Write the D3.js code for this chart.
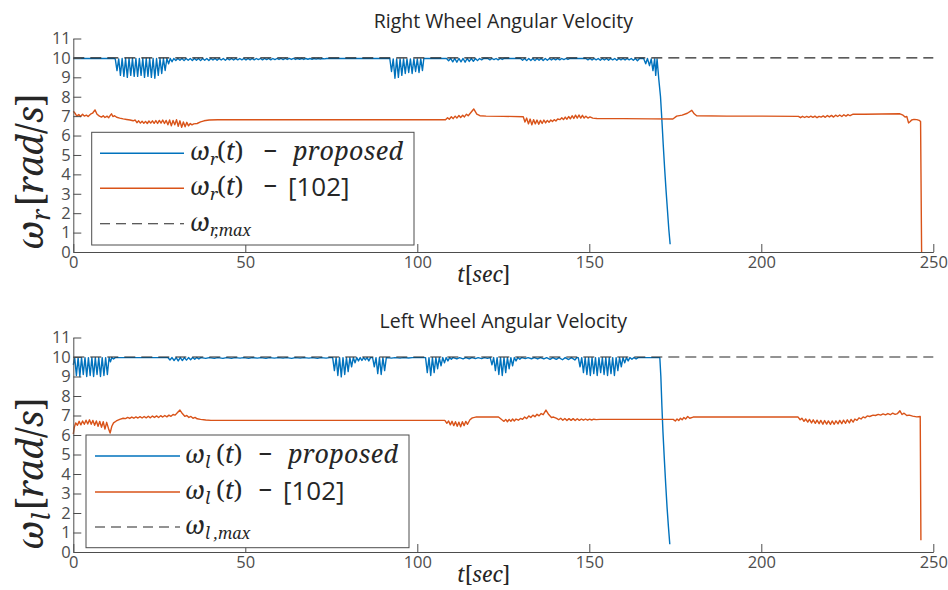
<!DOCTYPE html>
<html>
<head>
<meta charset="utf-8">
<script src="https://cdn.jsdelivr.net/npm/d3@7"></script>
<style>
  body { margin: 0; background: #fff; }
  svg { display: block; }
</style>
</head>
<body>
<svg id="chart" width="948" height="590"></svg>
<script>
// ---- data -------------------------------------------------------------
const timeTicks = [0, 50, 100, 150, 200, 250];
const speedTicks = [0, 1, 2, 3, 4, 5, 6, 7, 8, 9, 10, 11];
const speedLimit = 10;
const refLabel = "[102]";

// right wheel, proposed controller [t (s), ω (rad/s)]
const rightProposed = [
  [0,9.97],[11.8,9.97],
  [12.2,9.95],[12.7,9.35],[13.2,9.95],[13.7,9.1],[14.2,9.97],[14.7,9.05],[15.2,9.97],[15.7,9.0],
  [16.2,9.97],[16.7,9.1],[17.2,9.97],[17.7,9.05],[18.2,9.97],[18.7,9.05],[19.2,9.97],[19.7,9.1],
  [20.2,9.97],[20.7,9.0],[21.2,9.97],[21.7,9.05],[22.2,9.97],[22.7,9.0],[23.2,9.97],[23.7,8.95],
  [24.2,9.97],[24.7,9.1],[25.2,9.97],[25.7,9.2],[26.2,9.97],[26.7,9.35],[27.2,9.97],[27.7,9.7],
  [28.2,9.97],[28.7,9.8],[29.2,9.97],
  [29.8,9.87],[30.4,9.97],[31.0,9.88],[31.6,9.97],[32.2,9.86],[32.8,9.97],[33.4,9.88],[34.0,9.97],
  [34.6,9.87],[35.2,9.97],[35.8,9.88],[36.4,9.97],[37.0,9.86],[37.6,9.97],[38.2,9.88],[38.8,9.97],
  [39.4,9.87],[40.0,9.97],[40.6,9.89],[41.2,9.97],[41.8,9.88],[42.4,9.97],[43.0,9.89],[43.6,9.97],
  [44.2,9.88],[44.8,9.97],[45.4,9.9],[46.0,9.97],[46.6,9.89],[47.2,9.97],[47.8,9.9],[48.4,9.97],
  [49.0,9.9],[49.6,9.97],[50.2,9.89],[50.8,9.97],[51.4,9.9],[52.0,9.97],[52.6,9.9],[53.2,9.97],
  [53.8,9.91],[54.4,9.97],[55.0,9.9],[55.6,9.97],[56.2,9.91],[56.8,9.97],[57.4,9.9],[58.0,9.97],
  [58.6,9.91],[59.2,9.97],[59.8,9.92],[60.4,9.97],[61.0,9.91],[61.6,9.97],[62.2,9.92],[62.8,9.97],
  [63.4,9.92],[64.0,9.97],[64.6,9.92],[65.2,9.97],[65.8,9.93],[66.4,9.97],[67.0,9.92],[67.6,9.97],
  [68.2,9.93],[68.8,9.97],[69.4,9.93],[70.0,9.97],[70.6,9.94],[71.2,9.97],[71.8,9.94],[72.4,9.97],
  [73.0,9.95],[73.6,9.97],[91.5,9.97],
  [92.0,9.97],[92.5,9.3],[93.0,9.95],[93.5,8.95],[94.0,9.95],[94.5,9.0],[95.0,9.95],[95.5,9.1],
  [96.0,9.95],[96.5,9.2],[97.0,9.95],[97.5,9.25],[98.0,9.95],[98.5,9.2],[99.0,9.95],[99.5,9.3],
  [100.0,9.95],[100.5,9.25],[101.0,9.95],[101.5,9.35],[101.9,9.97],[108.5,9.97],
  [109.1,9.85],[109.7,9.97],[110.3,9.8],[110.9,9.97],[111.5,9.78],[112.1,9.97],[112.7,9.8],[113.3,9.97],
  [113.9,9.78],[114.5,9.97],[115.1,9.82],[115.7,9.97],[116.3,9.83],[116.9,9.97],[117.5,9.86],[118.1,9.97],
  [118.7,9.9],[119.3,9.97],[120.5,9.97],[121.1,9.9],[121.7,9.97],[122.3,9.91],[122.9,9.97],[123.5,9.9],
  [124.1,9.97],[124.7,9.92],[125.3,9.97],[130.0,9.97],
  [130.6,9.88],[131.2,9.97],[131.8,9.86],[132.4,9.97],[133.0,9.87],[133.6,9.97],[134.2,9.86],[134.8,9.97],
  [135.4,9.88],[136.0,9.97],[136.6,9.87],[137.2,9.97],[137.8,9.88],[138.4,9.97],[139.0,9.89],[139.6,9.97],
  [140.2,9.9],[140.8,9.97],[141.4,9.9],[142.0,9.97],[142.6,9.91],[143.2,9.97],[143.8,9.92],[144.4,9.97],
  [149.0,9.97],[149.6,9.9],[150.2,9.97],[150.8,9.89],[151.4,9.97],[152.0,9.9],[152.6,9.97],[153.2,9.88],
  [153.8,9.97],[154.4,9.89],[155.0,9.97],[155.6,9.88],[156.2,9.97],[156.8,9.9],[157.4,9.97],[158.0,9.88],
  [158.6,9.97],[159.2,9.9],[159.8,9.97],[160.4,9.89],[161.0,9.97],[161.6,9.9],[162.2,9.97],[162.8,9.88],
  [163.4,9.97],[164.0,9.85],[164.6,9.97],[165.8,9.97],[166.4,9.7],[166.9,9.97],[167.5,9.6],[168.0,9.95],
  [168.5,9.35],[169.0,9.95],[169.3,9.1],[169.7,9.95],
  [170.2,8.9],[170.7,8.0],[171.1,6.8],[171.5,5.5],[171.9,4.3],[172.3,3.2],[172.7,2.2],[173.1,1.2],[173.5,0.4]
];

// right wheel, reference controller [102]
const rightReference = [
  [0,7.25],[0.5,7.15],[1,7.0],[1.6,7.08],[2.1,6.98],[2.7,7.1],[3.2,7.0],[3.8,7.05],[4.3,6.98],[5.0,7.1],
  [5.6,7.15],[6.3,7.32],[6.9,7.1],[7.6,7.0],[8.2,6.95],[8.7,7.02],[9.2,6.93],[9.8,7.0],[10.3,6.92],
  [10.8,7.05],[11.1,7.12],[11.5,6.98],[12.0,7.02],[12.6,6.94],[13.5,6.9],[14.5,6.86],[15.5,6.83],
  [16.5,6.8],[17.4,6.76],[18.0,6.8],[18.5,6.66],[19.0,6.76],[19.5,6.64],[20.0,6.74],[20.5,6.63],
  [21.0,6.73],[21.5,6.62],[22.0,6.75],[22.5,6.64],[23.0,6.76],[23.5,6.63],[24.0,6.77],[24.5,6.62],
  [25.0,6.78],[25.5,6.64],[26.0,6.8],[26.5,6.62],[27.0,6.78],[27.5,6.55],[28.0,6.8],[28.5,6.5],
  [29.0,6.78],[29.5,6.55],[30.0,6.82],[30.5,6.48],[31.0,6.76],[31.5,6.42],[32.0,6.7],[32.5,6.45],
  [33.0,6.68],[33.5,6.5],[34.0,6.62],[34.5,6.55],[35.0,6.6],[36.0,6.62],[37.0,6.7],[38.0,6.76],
  [39.5,6.8],[42,6.81],[108.2,6.81],
  [108.8,6.92],[109.3,6.84],[109.9,6.97],[110.4,6.87],[111.0,7.0],[111.5,6.9],[112.1,7.03],[112.6,6.93],
  [113.2,7.05],[113.7,6.96],[114.3,7.1],[114.8,7.02],[115.4,7.15],[116.4,7.37],[117.3,7.1],[118.2,7.02],
  [120,7.0],[125,6.99],[130.8,6.97],
  [131.3,6.7],[131.8,6.9],[132.3,6.6],[132.8,6.85],[133.3,6.55],[133.8,6.82],[134.3,6.6],[134.8,6.8],
  [135.3,6.58],[135.8,6.78],[136.3,6.62],[136.8,6.8],[137.3,6.65],[137.8,6.78],[138.3,6.68],[138.8,6.8],
  [139.3,6.72],[139.8,6.82],[140.3,6.75],[140.8,6.85],[141.5,6.82],[142.0,6.92],[142.5,6.82],[143.0,6.95],
  [143.5,6.84],[144.0,6.98],[144.5,6.86],[145.0,7.02],[145.5,6.88],[146.0,7.05],[146.5,6.9],[147.0,7.06],
  [147.5,6.9],[148.0,7.04],[148.5,6.9],[149.0,7.0],[149.6,6.9],[150.2,6.96],[151,6.9],[152.2,6.88],
  [160,6.87],[168,6.86],[174.3,6.85],[175.4,7.0],[177,7.05],[178.5,7.15],[179.8,7.3],[180.5,7.12],
  [181.2,7.02],[190,7.0],[200,7.0],[210.8,6.99],
  [211.4,6.92],[212,6.99],[212.6,6.93],[213.2,6.99],[213.8,6.94],[214.4,7.0],[215,6.94],[215.6,7.0],
  [216.2,6.92],[216.8,6.99],[217.4,6.95],[218,7.01],[218.6,6.94],[219.2,7.03],[219.8,6.96],[220.4,7.04],
  [221,6.95],[221.6,7.05],[222.2,6.98],[222.8,7.06],[223.4,6.98],[224,7.07],[224.6,7.0],[225.2,7.08],
  [225.8,7.02],[226.7,7.1],[230,7.1],[235,7.11],[240.3,7.12],[241.2,7.05],[241.8,6.95],[242.3,6.98],
  [242.8,6.65],[243.3,6.72],[243.7,6.8],[244.4,6.83],[245.2,6.82],[245.9,6.78],[246.3,6.72],[246.6,0]
];

// left wheel, proposed controller
const leftProposed = [
  [0,9.6],[0.4,9.97],[0.9,9.05],[1.4,9.97],[1.9,9.0],[2.4,9.97],[2.9,9.1],[3.4,9.97],[3.9,9.0],
  [4.4,9.97],[4.9,9.05],[5.4,9.97],[5.9,9.0],[6.4,9.97],[6.9,9.1],[7.4,9.97],[7.9,9.0],[8.4,9.97],
  [8.9,9.05],[9.4,9.97],[9.9,9.1],[10.4,9.97],[10.8,9.75],[11.2,9.97],[11.7,9.9],[12.2,9.97],
  [27.5,9.97],[28.1,9.85],[28.7,9.97],[29.3,9.82],[29.9,9.97],[30.5,9.8],[31.1,9.97],[31.7,9.82],
  [32.3,9.97],[32.9,9.84],[33.5,9.97],[34.1,9.86],[34.7,9.97],[35.3,9.88],[35.9,9.97],[36.5,9.9],
  [37.1,9.97],[38.5,9.93],[39.5,9.97],[41,9.93],[42,9.97],[43.5,9.93],[44.5,9.97],[46,9.93],[47,9.97],
  [48.5,9.94],[49.5,9.97],[51,9.93],[52,9.97],[53.5,9.94],[54.5,9.97],[56,9.93],[57,9.97],[58.5,9.94],
  [59.5,9.97],[61,9.94],[62,9.97],[63.5,9.93],[64.5,9.97],[66,9.94],[67,9.97],[68.5,9.94],[69.5,9.97],
  [71,9.93],[72,9.97],[73.5,9.94],[74.5,9.97],
  [75.4,9.97],[75.9,9.3],[76.4,9.97],[76.9,9.05],[77.4,9.97],[77.9,8.98],[78.4,9.97],[78.9,9.1],
  [79.4,9.97],[79.9,9.25],[80.4,9.97],[80.9,9.5],[81.4,9.97],[81.9,9.7],[82.4,9.97],[82.9,9.8],
  [83.4,9.97],[83.9,9.82],[84.4,9.97],[84.9,9.85],[85.4,9.97],[85.9,9.8],[86.4,9.97],
  [87.0,9.97],[87.5,9.5],[88.0,9.97],[88.5,9.15],[89.0,9.97],[89.5,9.1],[90.0,9.97],[90.5,9.3],[91.0,9.97],
  [92.5,9.94],[93.5,9.97],[95,9.94],[96,9.97],[97.5,9.95],[98.5,9.97],
  [102.4,9.97],[102.9,9.2],[103.4,9.97],[103.9,9.05],[104.4,9.97],[104.9,9.2],[105.4,9.97],[105.9,9.4],
  [106.4,9.97],[106.9,9.55],[107.4,9.97],[107.9,9.7],[108.4,9.97],[108.9,9.8],[109.4,9.97],[109.9,9.88],
  [110.4,9.97],[111.5,9.9],[112.3,9.97],[113.3,9.9],[114.1,9.97],[115.1,9.91],[115.9,9.97],[116.9,9.92],
  [117.7,9.97],[118.7,9.92],[119.5,9.97],[120.4,9.93],
  [121.2,9.97],[121.7,9.6],[122.2,9.97],[122.7,9.3],[123.2,9.97],[123.7,9.1],[124.2,9.97],[124.7,9.05],
  [125.2,9.97],[125.7,9.2],[126.2,9.97],[126.7,9.4],[127.2,9.97],[127.7,9.55],[128.2,9.97],[128.7,9.8],
  [129.2,9.97],[129.8,9.88],[130.4,9.97],
  [131.4,9.92],[132.2,9.97],[133.2,9.91],[134.0,9.97],[135.0,9.9],[135.8,9.97],[136.8,9.9],[137.6,9.97],
  [138.6,9.88],[139.4,9.97],[140.4,9.88],[141.2,9.97],[142.2,9.86],[143.0,9.97],[144.0,9.87],[144.8,9.97],
  [145.8,9.85],[146.4,9.97],
  [146.8,9.97],[147.3,9.5],[147.8,9.97],[148.3,9.2],[148.8,9.97],[149.3,9.1],[149.8,9.97],[150.3,9.05],
  [150.8,9.97],[151.3,9.15],[151.8,9.97],[152.3,9.05],[152.8,9.97],[153.3,9.2],[153.8,9.97],[154.3,9.1],
  [154.8,9.97],[155.3,9.05],[155.8,9.97],[156.3,9.15],[156.8,9.97],[157.3,9.05],[157.8,9.97],[158.3,9.3],
  [158.8,9.97],[159.3,9.5],[159.8,9.97],[160.3,9.7],[160.8,9.97],[161.3,9.8],[161.8,9.97],[162.4,9.88],
  [163.0,9.97],[163.6,9.9],[164.2,9.97],[170.5,9.97],
  [170.8,9.0],[171.1,7.5],[171.4,6.2],[171.8,4.8],[172.2,3.5],[172.6,2.3],[173.0,1.3],[173.4,0.4]
];

// left wheel, reference controller [102]
const leftReference = [
  [0,6.05],[0.3,6.4],[0.7,6.62],[1.2,6.5],[1.7,6.7],[2.2,6.52],[2.7,6.72],[3.2,6.55],[3.7,6.76],
  [4.2,6.56],[4.7,6.78],[5.2,6.55],[5.7,6.75],[6.2,6.5],[6.7,6.72],[7.2,6.45],[7.7,6.7],[8.2,6.4],
  [8.7,6.68],[9.2,6.3],[9.7,6.65],[10.2,6.35],[10.7,6.1],[11.2,6.45],[11.7,6.62],[12.5,6.72],
  [13.5,6.8],[14.5,6.86],[15.2,6.84],[15.8,6.9],[16.4,6.85],[17.0,6.92],[17.6,6.86],[18.2,6.93],
  [18.8,6.87],[19.4,6.94],[20.0,6.87],[20.6,6.95],[21.2,6.88],[21.8,6.96],[22.4,6.88],[23.0,6.97],
  [23.6,6.9],[24.2,6.98],[24.8,6.9],[25.4,6.99],[26.0,6.92],[26.6,7.0],[27.2,6.93],[27.8,7.02],
  [28.4,6.96],[29.0,7.05],[29.6,7.02],[30.3,7.15],[31.0,7.28],[31.7,7.1],[32.4,6.96],[33.0,7.0],
  [33.6,6.9],[34.2,6.95],[34.8,6.86],[35.4,6.9],[36.0,6.83],[37,6.8],[38.5,6.77],[40,6.75],[108,6.75],
  [108.6,6.6],[109.1,6.72],[109.6,6.52],[110.1,6.7],[110.6,6.48],[111.1,6.68],[111.6,6.45],[112.1,6.66],
  [112.6,6.42],[113.1,6.68],[113.6,6.48],[114.1,6.7],[114.6,6.55],[115.3,6.78],[116,6.88],[117,6.92],
  [123.6,6.92],[124.6,6.78],[125.2,6.7],[125.7,6.8],[126.2,6.68],[126.7,6.8],[127.2,6.7],[127.7,6.82],
  [128.2,6.72],[128.7,6.82],[129.4,6.76],[130.0,6.85],[130.6,6.8],[131.2,6.92],[131.8,6.84],[132.4,6.98],
  [133.0,6.9],[133.6,7.02],[134.2,6.94],[134.8,7.06],[135.4,6.98],[136.0,7.1],[136.6,7.04],[137.4,7.28],
  [138.2,7.05],[139.0,6.9],[139.6,6.92],[140.5,6.85],[141.1,6.78],[141.7,6.86],[142.3,6.76],[142.9,6.85],
  [143.5,6.74],[144.1,6.84],[144.7,6.75],[145.3,6.84],[145.9,6.74],[146.5,6.83],[147.1,6.75],[147.7,6.82],
  [148.3,6.76],[148.9,6.82],[149.5,6.76],[150.1,6.81],[150.7,6.77],[151.3,6.81],[152,6.79],[153.1,6.8],
  [174.4,6.8],[175.0,6.72],[175.5,6.82],[176.0,6.74],[176.5,6.86],[177.0,6.78],[177.5,6.9],[178.0,6.82],
  [178.6,6.95],[179.2,6.86],[180.2,6.92],[190,6.92],[200,6.92],[210.7,6.92],
  [211.3,6.78],[211.8,6.86],[212.4,6.7],[212.9,6.82],[213.5,6.66],[214.0,6.8],[214.6,6.62],[215.1,6.78],
  [215.7,6.6],[216.2,6.76],[216.8,6.58],[217.3,6.75],[217.9,6.55],[218.4,6.74],[219.0,6.56],[219.5,6.72],
  [220.1,6.54],[220.6,6.72],[221.2,6.55],[221.7,6.73],[222.3,6.57],[222.8,6.75],[223.4,6.58],[223.9,6.76],
  [224.5,6.6],[225.0,6.78],[225.6,6.62],[226.1,6.8],[226.7,6.66],[227.2,6.82],[227.8,6.75],[228.4,6.88],
  [229.0,6.82],[229.6,6.93],[230.2,6.88],[230.8,6.98],[231.5,6.95],[232.5,7.02],[233.2,7.0],[234,7.06],
  [234.7,7.02],[235.4,7.08],[236.1,7.03],[236.8,7.1],[237.5,7.04],[238.2,7.12],[238.9,7.06],[239.6,7.1],
  [240.3,7.24],[240.9,7.05],[241.5,7.12],[242.3,7.0],[243,7.02],[244,6.97],[245.2,6.93],[246.2,6.95],
  [246.4,0.6]
];

// ---- drawing ------------------------------------------------------------
const BLUE = "#0072BD", ORANGE = "#D95319", INK = "#262626", AXIS = "#4d4d4d";
const SANS = "'Open Sans', sans-serif";
const SERIF = "'Noto Serif', serif";
const svg = d3.select("#chart");
const x = d3.scaleLinear().domain([0, 250]).range([73.3, 933.3]);

// math-style text: italic serif, with upright pieces where requested
function mathText(parent, size) {
  return parent.append("text")
    .attr("font-family", SERIF).attr("font-style", "italic")
    .attr("font-size", size).attr("fill", INK);
}
function upright(sel, s) {
  return sel.append("tspan").attr("font-style", "normal").text(s);
}

const panels = [
  { title: "Right Wheel Angular Velocity", sub: "r", subMax: "r,max", subGap: 0,
    proposed: rightProposed, reference: rightReference,
    top: 38.5, bottom: 252, titleY: 28,
    legend: { x: 91.7, y: 132.3, w: 322.3, h: 112.7, rows: [153.3, 188.3, 223.7], l0: 100, l1: 184, tx: 190 } },
  { title: "Left Wheel Angular Velocity", sub: "l", subMax: "l ,max", subGap: 4,
    proposed: leftProposed, reference: leftReference,
    top: 337.5, bottom: 552, titleY: 328,
    legend: { x: 86, y: 435, w: 323, h: 112.7, rows: [456, 492, 527], l0: 95, l1: 180, tx: 185 } }
];

panels.forEach(p => {
  const y = d3.scaleLinear().domain([0, 11]).range([p.bottom, p.top]);
  const g = svg.append("g");
  const line = d3.line().x(d => x(d[0])).y(d => y(d[1]));

  // title
  g.append("text").attr("x", (x(0) + x(250)) / 2).attr("y", p.titleY)
    .attr("text-anchor", "middle")
    .attr("font-family", SANS).attr("font-size", 19.5).attr("fill", INK)
    .text(p.title);

  // series
  g.append("path").datum(p.proposed).attr("d", line)
    .attr("fill", "none").attr("stroke", BLUE).attr("stroke-width", 1.4).attr("stroke-linejoin", "round");
  g.append("path").datum(p.reference).attr("d", line)
    .attr("fill", "none").attr("stroke", ORANGE).attr("stroke-width", 1.4).attr("stroke-linejoin", "round");
  g.append("path").datum(x.domain().map(t => [t, speedLimit])).attr("d", line)
    .attr("fill", "none").attr("stroke", INK).attr("stroke-width", 1.1).attr("stroke-dasharray", "11,6");

  // axes (left and bottom only, ticks pointing inward)
  const ya = g.append("g").attr("transform", `translate(${x(0)},0)`)
    .call(d3.axisLeft(y).tickValues(speedTicks).tickSize(-8).tickSizeOuter(0).tickPadding(2.5));
  const xa = g.append("g").attr("transform", `translate(0,${y(0)})`)
    .call(d3.axisBottom(x).tickValues(timeTicks).tickSize(-8).tickSizeOuter(0).tickPadding(4));
  [ya, xa].forEach(a => {
    a.attr("font-family", SANS).attr("font-size", 16.5);
    a.select(".domain").attr("stroke", AXIS);
    a.selectAll(".tick line").attr("stroke", AXIS);
    a.selectAll(".tick text").attr("fill", AXIS);
  });

  // x label  t[sec]
  const xl = mathText(g, 21).attr("x", 457).attr("y", p.bottom + 29.5);
  xl.append("tspan").text("t");
  upright(xl, "[");
  xl.append("tspan").text("sec");
  upright(xl, "]");

  // y label  ω_sub[rad/s]
  const yl = mathText(g, 37).attr("transform", `translate(43,${p.bottom - 2}) rotate(-90)`);
  yl.append("tspan").text("ω");
  yl.append("tspan").attr("dy", 7).attr("font-size", 25).text(p.sub);
  upright(yl, "[").attr("dy", -7).attr("dx", 2);
  yl.append("tspan").text("rad");
  upright(yl, "/");
  yl.append("tspan").text("s");
  upright(yl, "]");

  // legend
  const L = p.legend;
  const lg = g.append("g");
  lg.append("rect").attr("x", L.x).attr("y", L.y).attr("width", L.w).attr("height", L.h)
    .attr("fill", "#fff").attr("stroke", AXIS).attr("stroke-width", 1);
  const samples = [
    { color: BLUE, dash: null },
    { color: ORANGE, dash: null },
    { color: INK, dash: "10,6" }
  ];
  samples.forEach((s, i) => {
    lg.append("line").attr("x1", L.l0).attr("x2", L.l1).attr("y1", L.rows[i]).attr("y2", L.rows[i])
      .attr("stroke", s.color).attr("stroke-width", s.dash ? 1.1 : 1.4)
      .attr("stroke-dasharray", s.dash);
  });

  const fs = 25;
  [0, 1].forEach(i => {
    const base = L.rows[i] + 7;
    const t = mathText(lg, fs).attr("x", L.tx).attr("y", base);
    t.append("tspan").text("ω");
    t.append("tspan").attr("dy", 5).attr("font-size", 17).text(p.sub);
    const par = mathText(lg, fs).attr("x", L.tx + 27 + p.subGap).attr("y", base);
    upright(par, "(");
    par.append("tspan").text("t");
    upright(par, ")");
    mathText(lg, fs).attr("font-style", "normal").attr("x", L.tx + 73).attr("y", base).text("−");
    if (i === 0) {
      mathText(lg, fs).attr("x", L.tx + 103).attr("y", base)
        .attr("textLength", 110).attr("lengthAdjust", "spacing")
        .text("proposed");
    } else {
      lg.append("text").attr("x", L.tx + 98).attr("y", L.rows[i] + 8)
        .attr("font-family", SANS).attr("font-size", 26).attr("fill", INK)
        .text(refLabel);
    }
  });
  const m = mathText(lg, fs).attr("x", L.tx).attr("y", L.rows[2] + 7);
  m.append("tspan").text("ω");
  m.append("tspan").attr("dy", 5).attr("font-size", 16).text(p.subMax);
});
</script>
</body>
</html>
